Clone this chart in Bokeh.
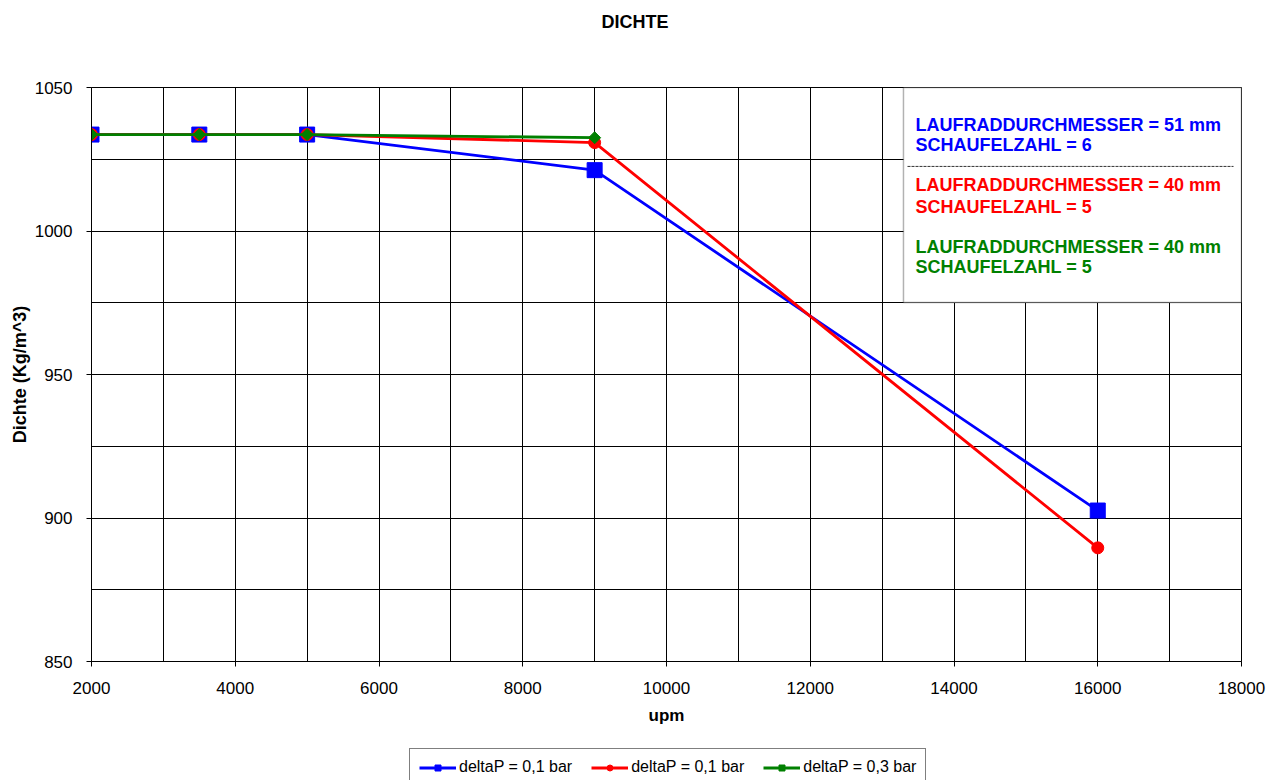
import math
from bokeh.plotting import figure
from bokeh.layouts import column
from bokeh.models import (FixedTicker, Legend, LegendItem, BoxAnnotation, Label, Range1d, Title)
from bokeh.embed import file_html
from bokeh.resources import INLINE

# ---- data ----
upm_blue = [2000, 3500, 5000, 9000, 16000]
dichte_blue = [1033.6, 1033.6, 1033.6, 1021.2, 902.6]
upm_red = [2000, 3500, 5000, 9000, 16000]
dichte_red = [1033.6, 1033.6, 1033.6, 1030.8, 889.6]
upm_green = [2000, 3500, 5000, 9000]
dichte_green = [1033.6, 1033.6, 1033.6, 1032.5]
series_labels = ["deltaP = 0,1 bar", "deltaP = 0,1 bar", "deltaP = 0,3 bar"]
x_ticks = [2000, 4000, 6000, 8000, 10000, 12000, 14000, 16000, 18000]
x_minor = [3000, 5000, 7000, 9000, 11000, 13000, 15000, 17000]
y_ticks = [850, 900, 950, 1000, 1050]
y_minor = [875, 925, 975, 1025]
info_lines = ["LAUFRADDURCHMESSER = 51 mm", "SCHAUFELZAHL = 6",
              "LAUFRADDURCHMESSER = 40 mm", "SCHAUFELZAHL = 5",
              "LAUFRADDURCHMESSER = 40 mm", "SCHAUFELZAHL = 5"]

FONT = "Liberation Sans"
BLUE, RED, GREEN = "#0000FF", "#FF0000", "#008000"


def add_series(fig):
    lb = fig.line(upm_blue, dichte_blue, line_color=BLUE, line_width=2.8)
    sb = fig.scatter(upm_blue, dichte_blue, marker="square", size=15,
                     fill_color=BLUE, line_color=BLUE)
    lr = fig.line(upm_red, dichte_red, line_color=RED, line_width=2.8)
    sr = fig.scatter(upm_red, dichte_red, marker="circle", size=12,
                     fill_color=RED, line_color=RED)
    lg = fig.line(upm_green, dichte_green, line_color=GREEN, line_width=2.8)
    sg = fig.scatter(upm_green, dichte_green, marker="square", angle=math.pi / 4, size=8.5,
                     fill_color=GREEN, line_color=GREEN)
    return [(lb, sb), (lr, sr), (lg, sg)]


p = figure(frame_width=1150, frame_height=574, output_backend="svg", toolbar_location=None,
           x_range=Range1d(2000, 18000), y_range=Range1d(850, 1050),
           min_border_left=91, min_border_right=35, min_border_top=87,
           min_border_bottom=87, background_fill_color="white",
           border_fill_color="white", outline_line_color="black")

# spacer (closest to the frame) + title on top
p.add_layout(Title(text=".", text_color="white", text_font_size="10px", standoff=35), "above")
p.add_layout(Title(text="DICHTE", align="left", offset=510, vertical_align="top", standoff=18,
                   text_font=FONT, text_font_size="18px", text_font_style="bold",
                   text_color="black"), "above")

p.xaxis.ticker = FixedTicker(ticks=x_ticks, minor_ticks=x_minor)
p.yaxis.ticker = FixedTicker(ticks=y_ticks, minor_ticks=y_minor)
for ax in (p.xaxis, p.yaxis):
    ax.major_label_text_font = FONT
    ax.major_label_text_font_size = "17px"
    ax.major_label_text_color = "black"
    ax.axis_label_text_font = FONT
    ax.axis_label_text_font_size = "17px"
    ax.axis_label_text_font_style = "bold"
    ax.axis_label_text_color = "black"
    ax.axis_line_color = "black"
    ax.major_tick_line_color = "black"
    ax.major_tick_out = 5
    ax.major_tick_in = 0
    ax.minor_tick_line_color = None
p.xaxis.axis_label = "upm"
p.yaxis.axis_label = "Dichte (Kg/m^3)"
p.yaxis.axis_label_text_font_size = "18px"
p.xaxis.major_label_standoff = 15
p.xaxis.axis_label_standoff = 9
p.yaxis.major_label_standoff = 14
p.yaxis.axis_label_standoff = 2

for g in (p.xgrid, p.ygrid):
    g.grid_line_color = "black"
    g.grid_line_width = 1
    g.minor_grid_line_color = "black"
    g.minor_grid_line_width = 1

add_series(p)

# info box
p.add_layout(BoxAnnotation(left=13297, right=18000, top=1050, bottom=975.1,
                           fill_color="white", fill_alpha=1.0, line_color="black",
                           line_width=1.5))
text_y = [1037.1, 1029.8, 1015.9, 1008.2, 994.3, 987.3]
text_c = [BLUE, BLUE, RED, RED, GREEN, GREEN]
for t, y, c in zip(info_lines, text_y, text_c):
    p.add_layout(Label(x=13464, y=y, text=t, text_color=c, text_font=FONT,
                       text_font_size="18px", text_font_style="bold",
                       text_baseline="middle", text_align="left"))
seg = p.segment(x0=[13353], y0=[1022.5], x1=[17889], y1=[1022.5], line_color="#333333",
                line_width=1, line_dash="3 1")
seg.level = "overlay"

# legend strip below the chart (series outside its ranges, only the legend shows)
pl = figure(width=1276, height=32, output_backend="svg", toolbar_location=None,
            x_range=Range1d(0, 1), y_range=Range1d(0, 1), x_axis_type=None, y_axis_type=None,
            min_border=0, outline_line_color=None, background_fill_color="white",
            border_fill_color="white")
pl.xgrid.visible = False
pl.ygrid.visible = False
pairs = add_series(pl)
legend = Legend(items=[LegendItem(label=lab, renderers=list(rs)) for lab, rs in zip(series_labels, pairs)],
                orientation="horizontal", location=(318, -6),
                label_text_font=FONT, label_text_font_size="16px", label_text_color="black",
                glyph_width=37, glyph_height=15, label_standoff=3, spacing=19,
                padding=9, margin=0, border_line_color="black", border_line_width=1,
                background_fill_color="white", label_height=16)
pl.add_layout(legend)

layout = column(p, pl, spacing=0)
open("out.html", "w").write(file_html(layout, INLINE))
